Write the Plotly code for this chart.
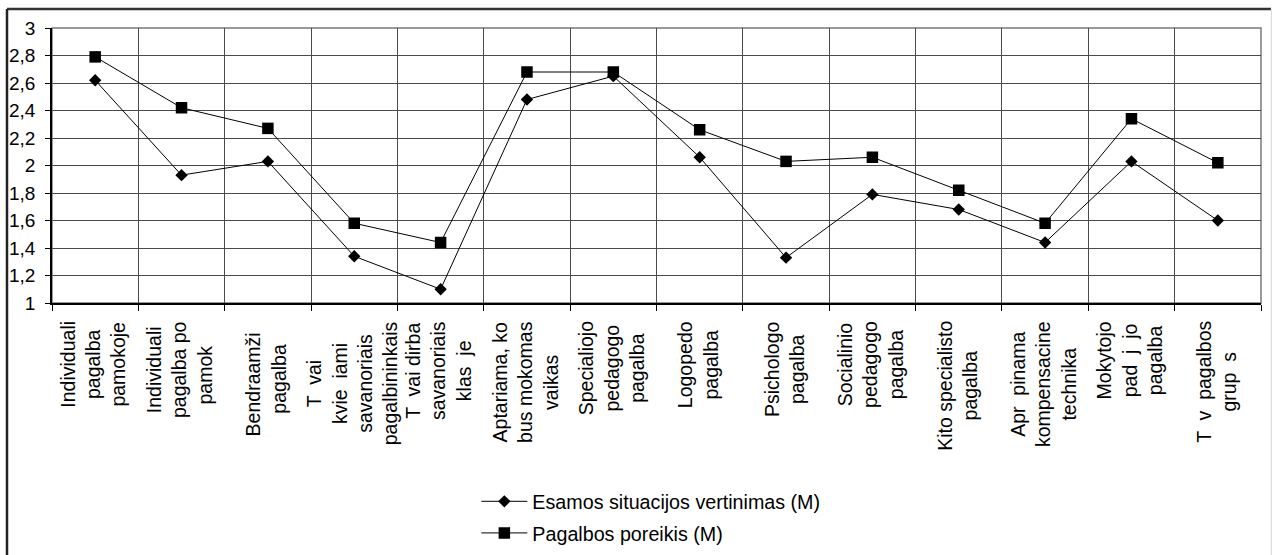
import plotly.graph_objects as go

categories = [
    "Individuali<br>pagalba<br>pamokoje",
    "Individuali<br>pagalba po<br>pamok  ",
    "Bendraamži  <br>pagalba",
    "T  vai<br>kvie  iami<br>savanoriais<br>pagalbininkais",
    "T  vai dirba<br>savanoriais<br>klas  je",
    "Aptariama, ko<br>bus mokomas<br>vaikas",
    "Specialiojo<br>pedagogo<br>pagalba",
    "Logopedo<br>pagalba",
    "Psichologo<br>pagalba",
    "Socialinio<br>pedagogo<br>pagalba",
    "Kito specialisto<br>pagalba",
    "Apr  pinama<br>kompensacine<br>technika",
    "Mokytojo<br>pad  j  jo<br>pagalba",
    "T  v  pagalbos<br>grup  s",
]
esamos = [2.62, 1.93, 2.03, 1.34, 1.10, 2.48, 2.65, 2.06, 1.33, 1.79, 1.68, 1.44, 2.03, 1.60]
poreikis = [2.79, 2.42, 2.27, 1.58, 1.44, 2.68, 2.68, 2.26, 2.03, 2.06, 1.82, 1.58, 2.34, 2.02]
series_names = ["Esamos situacijos vertinimas (M)", "Pagalbos poreikis (M)"]

FONT = "Liberation Sans, Arial, sans-serif"

fig = go.Figure()
fig.add_trace(go.Scatter(
    x=categories, y=esamos, name=series_names[0], mode="lines+markers",
    legendgroup="a",
    line=dict(color="black", width=1),
    marker=dict(symbol="diamond", size=9.5, color="black"),
))
fig.add_trace(go.Scatter(
    x=categories, y=poreikis, name=series_names[1], mode="lines+markers",
    legendgroup="b",
    line=dict(color="black", width=1),
    marker=dict(symbol="square", size=11.5, color="black"),
))

annotations = []
for c in categories:
    annotations.append(dict(
        x=c, xref="x", y=0, yref="paper", yshift=-16, xshift=-2,
        text=c, textangle=-90, showarrow=False,
        xanchor="center", yanchor="top", align="center",
        font=dict(family=FONT, size=19.5, color="black"),
    ))

shapes = [
    # plot area frame (gray)
    dict(type="rect", xref="paper", yref="paper", x0=0, x1=1, y0=0, y1=1,
         line=dict(color="#7a7a7a", width=1.5), layer="below"),
    # outer chart frame
    dict(type="line", xref="paper", yref="paper",
         x0=-45/1209, x1=1219/1209, y0=294/275, y1=294/275,
         line=dict(color="#333333", width=2.5)),
    dict(type="line", xref="paper", yref="paper",
         x0=-45/1209, x1=-45/1209, y0=294/275, y1=-260/275,
         line=dict(color="#222222", width=2.5)),
    dict(type="line", xref="paper", yref="paper",
         x0=1219.5/1209, x1=1219.5/1209, y0=294/275, y1=-260/275,
         line=dict(color="#dddddd", width=1.5)),
]

fig.update_layout(
    template="none",
    width=1272, height=555, autosize=False,
    margin=dict(l=52, r=11, t=28, b=252, pad=0),
    paper_bgcolor="white", plot_bgcolor="white",
    separators=", ",
    font=dict(family=FONT, size=18, color="black"),
    showlegend=True,
    legend=dict(
        x=0.351, xref="paper", y=1 - 482 / 555, yref="container",
        xanchor="left", yanchor="top",
        font=dict(family=FONT, size=19.7, color="black"),
        bgcolor="rgba(0,0,0,0)", itemwidth=46,
        traceorder="grouped", tracegroupgap=3,
    ),
    annotations=annotations,
    shapes=shapes,
)
fig.update_xaxes(
    type="category", categoryorder="array", categoryarray=categories,
    range=[-0.5, len(categories) - 0.5], automargin=False,
    tickson="boundaries", showticklabels=False,
    ticks="outside", ticklen=6, tickcolor="black",
    showgrid=True, gridcolor="#4a4a4a", gridwidth=1,
    showline=True, linecolor="black", linewidth=1.5,
    zeroline=False,
)
fig.update_yaxes(
    range=[1, 3], dtick=0.2, tick0=1, automargin=False,
    ticks="outside", ticklen=5, tickcolor="black",
    ticklabelstandoff=6,
    showgrid=True, gridcolor="#4a4a4a", gridwidth=1,
    showline=True, linecolor="black", linewidth=1.5,
    zeroline=False,
    tickfont=dict(family=FONT, size=19, color="black"),
)

fig.write_html(
    "out.html",
    config={"displayModeBar": False},
    post_script="document.body.style.margin='0';document.body.style.overflow='hidden';",
)
